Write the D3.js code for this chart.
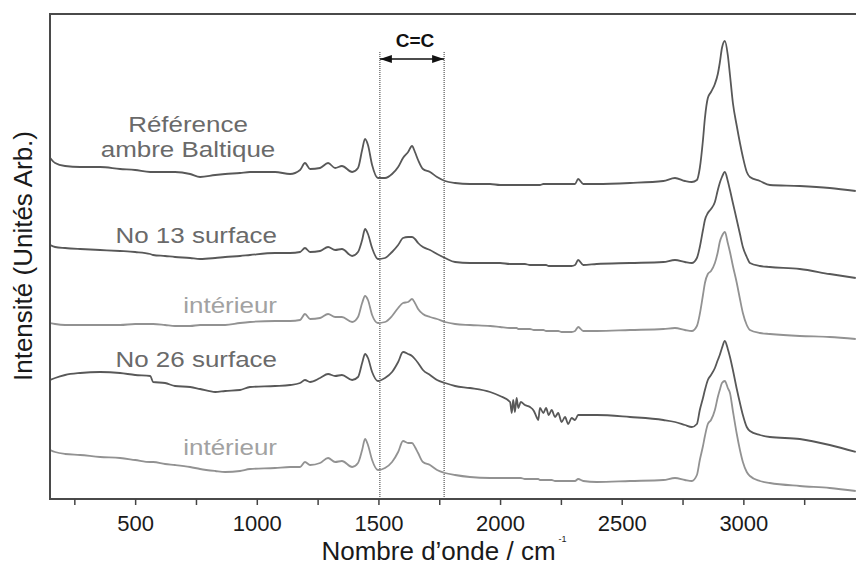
<!DOCTYPE html>
<html>
<head>
<meta charset="utf-8">
<script src="https://cdn.jsdelivr.net/npm/d3@7"></script>
<style>
body{margin:0;background:#fff;}
text{font-family:"Liberation Sans",Arial,sans-serif;}
</style>
</head>
<body>
<div id="spectre"></div>
<script>
//dimensions de la page
var largeur = 856;
var hauteur = 566;

//nombre d'onde (cm-1), grille commune aux 5 spectres
var nombreOnde = [151,171,212,274,356,438,500,562,574,623,664,726,767,829,870,931,972,1075,1137,1178,
1198,1219,1260,1293,1322,1350,1392,1416,1433,1445,1457,1474,1498,1527,1556,1581,1601,1622,1638,1650,
1663,1683,1712,1741,1774,1815,1876,1959,2000,2041,
2048,2054,2061,2068,2075,2085,2102,2123,2139,2150,2157,2164,2178,2189,2200,2212,2226,2239,2253,2267,2280,2294,2308,2321,
2342,2397,2534,2671,2719,2760,2788,2809,2821,2834,2842,2854,2867,2883,2895,2903,2912,2924,2936,2945,
2957,2973,2986,2998,3014,3027,3068,3109,3232,3355,3462];

//intensites (unites arbitraires, spectres decales)
var reference = [341,336,333,332,332,330,329,327,327,327,327,325,322,324,325,326,327,327,325,329,
336,330,331,336,331,333,327,331,349,360,354,334,321,321,325,332,341,347,353,347,
339,330,327,322,318,316,315,315,314,314,
314,314,314,314,314,314,314,314,314,314,314,314,315,315,315,315,315,315,315,315,315,315,315,320,
315,315,316,318,321,318,317,319,331,359,381,401,407,415,425,436,451,458,444,424,
396,373,356,342,327,322,318,314,313,311,308];

var no13surface = [254,252,251,250,249,248,247,245,244,243,242,241,240,241,242,243,244,246,246,247,
251,247,248,252,249,250,243,247,259,270,265,251,240,241,247,254,261,262,262,260,
256,252,249,245,241,237,236,236,236,235,
235,235,235,235,235,235,235,234,234,234,234,234,234,234,233,233,233,233,233,233,233,233,234,239,
234,235,236,237,239,237,236,241,252,269,279,286,290,297,309,316,322,327,318,309,
296,279,265,252,242,236,233,232,230,225,221];

var no13interieur = [176,175,174,174,174,174,175,175,175,174,173,173,174,174,174,176,177,178,178,179,
185,180,181,185,182,182,177,182,196,203,199,184,176,177,183,191,196,197,200,196,
190,185,182,180,177,175,174,173,172,171,
171,171,171,171,170,170,170,170,169,169,169,169,169,168,168,168,168,168,167,167,167,167,168,172,
168,168,169,170,171,169,168,173,185,204,216,225,228,236,247,257,263,267,256,247,
233,216,200,186,174,169,166,165,163,162,160];

var no26surface = [119,121,124,126,127,126,124,123,117,116,113,112,110,107,108,109,112,113,114,116,
119,117,121,125,123,124,119,122,136,145,141,127,118,121,127,137,147,145,143,140,
136,129,124,119,116,113,111,107,103,97,
86,99,87,101,91,97,94,92,88,82,79,91,86,91,84,89,82,86,77,82,75,81,79,84,
84,84,82,79,77,74,72,75,89,101,109,119,124,131,139,144,151,158,150,142,
129,110,96,84,72,68,64,62,60,54,47];

var no26interieur = [49,47,45,44,42,41,39,37,37,35,34,32,30,28,27,28,30,31,32,32,
37,34,36,41,37,38,32,36,49,60,54,39,29,31,37,47,58,56,56,52,
46,37,34,29,26,24,22,21,21,21,
21,21,21,21,21,21,20,20,20,20,20,19,19,19,19,19,18,18,18,18,18,18,18,20,
18,17,18,19,21,19,18,24,39,53,63,75,79,89,102,109,116,118,111,106,
88,65,49,37,27,23,18,16,13,11,8];

var ticksMajeurs = [500,1000,1500,2000,2500,3000];
var ticksMineurs = [250,750,1250,1750,2250,2750,3250];
var zoneCC = [1506,1770];

var foncé = "#585858";
var clair = "#929292";

//tableau des series
var series = [
  {valeurs: reference, couleur: foncé, texte: ["Référence","ambre Baltique"], tx: 188, ty: 132, ancre: "middle", coulTexte: "#6a6a6a"},
  {valeurs: no13surface, couleur: foncé, texte: ["No 13 surface"], tx: 277, ty: 243, ancre: "end", coulTexte: "#6a6a6a"},
  {valeurs: no13interieur, couleur: clair, texte: ["intérieur"], tx: 277, ty: 313, ancre: "end", coulTexte: "#a2a2a2"},
  {valeurs: no26surface, couleur: foncé, texte: ["No 26 surface"], tx: 277, ty: 367, ancre: "end", coulTexte: "#6a6a6a"},
  {valeurs: no26interieur, couleur: clair, texte: ["intérieur"], tx: 277, ty: 455, ancre: "end", coulTexte: "#a2a2a2"}
];

var x = d3.scaleLinear().domain([150,3500]).range([50,865]);
var y = d3.scaleLinear().domain([0,485]).range([499,14]);

var svg = d3.select("#spectre")
  .append("svg")
  .attr("width", largeur)
  .attr("height", hauteur);

var defs = svg.append("defs");
defs.append("clipPath").attr("id","zone")
  .append("rect").attr("x",50).attr("y",14).attr("width",815).attr("height",485);
defs.append("marker")
  .attr("id","fleche")
  .attr("markerUnits","userSpaceOnUse")
  .attr("viewBox","0 0 12 8")
  .attr("markerWidth",12).attr("markerHeight",8)
  .attr("refX",12).attr("refY",4)
  .attr("orient","auto-start-reverse")
  .append("path").attr("d","M0,0 L12,4 L0,8 Z").attr("fill","#111");

//traits pointilles de la zone C=C
svg.selectAll(".pointille")
  .data(zoneCC)
  .enter().append("line")
  .attr("x1", function(d){ return x(d); })
  .attr("x2", function(d){ return x(d); })
  .attr("y1", 52)
  .attr("y2", y(0))
  .style("stroke","#333")
  .style("stroke-width",1)
  .style("stroke-dasharray","1,1");

var ligne = d3.line()
  .x(function(d,i){ return x(nombreOnde[i]); })
  .y(function(d){ return y(d); })
  .curve(d3.curveMonotoneX);

svg.append("g").attr("clip-path","url(#zone)")
  .selectAll("path")
  .data(series)
  .enter().append("path")
  .attr("d", function(s){ return ligne(s.valeurs); })
  .style("fill","none")
  .style("stroke", function(s){ return s.couleur; })
  .style("stroke-width",1.8)
  .style("stroke-linejoin","round");

//etiquettes des spectres (texte un peu elargi comme sur l'original)
series.forEach(function(s){
  s.texte.forEach(function(l,i){
    svg.append("text")
      .attr("transform","translate(" + s.tx + "," + (s.ty + i*25) + ") scale(1.18,1)")
      .attr("text-anchor", s.ancre)
      .style("font-size","22px")
      .style("fill", s.coulTexte)
      .text(l);
  });
});

//cadre
svg.append("rect")
  .attr("x",50).attr("y",14).attr("width",815).attr("height",485)
  .style("fill","none").style("stroke","#4a4a4a").style("stroke-width",2);

//axe x
var axeX = d3.axisBottom(x)
  .tickValues(ticksMajeurs)
  .tickSize(6)
  .tickSizeOuter(0)
  .tickPadding(10)
  .tickFormat(d3.format("d"));
var gx = svg.append("g").attr("transform","translate(0," + y(0) + ")").call(axeX);
gx.select(".domain").remove();
gx.selectAll("line").style("stroke","#444").style("stroke-width",1.5);
gx.selectAll("text").style("font-size","22px").style("fill","#1a1a1a").style("font-family","Liberation Sans, Arial, sans-serif");

var axeMin = d3.axisBottom(x).tickValues(ticksMineurs).tickSize(6).tickSizeOuter(0).tickFormat("");
var gm = svg.append("g").attr("transform","translate(0," + y(0) + ")").call(axeMin);
gm.select(".domain").remove();
gm.selectAll("line").style("stroke","#444").style("stroke-width",1.5);

//fleche C=C
svg.append("line")
  .attr("x1", x(zoneCC[0])).attr("x2", x(zoneCC[1]))
  .attr("y1", 59).attr("y2", 59)
  .style("stroke","#111").style("stroke-width",1.6)
  .attr("marker-start","url(#fleche)")
  .attr("marker-end","url(#fleche)");
svg.append("text")
  .attr("x", (x(zoneCC[0]) + x(zoneCC[1])) / 2 + 3)
  .attr("y", 47)
  .attr("text-anchor","middle")
  .style("font-size","19px").style("font-weight","bold").style("fill","#111")
  .text("C=C");

//titres des axes
var tt = svg.append("text")
  .attr("x", 444).attr("y", 560)
  .attr("text-anchor","middle")
  .style("font-size","26px").style("fill","#1a1a1a")
  .text("Nombre d’onde / cm");
tt.append("tspan").attr("dx",3).attr("dy",-18).style("font-size","9px").text("-1");

svg.append("text")
  .attr("transform","translate(32,256) rotate(-90)")
  .attr("text-anchor","middle")
  .style("font-size","26px").style("fill","#1a1a1a")
  .text("Intensité (Unités Arb.)");
</script>
</body>
</html>
